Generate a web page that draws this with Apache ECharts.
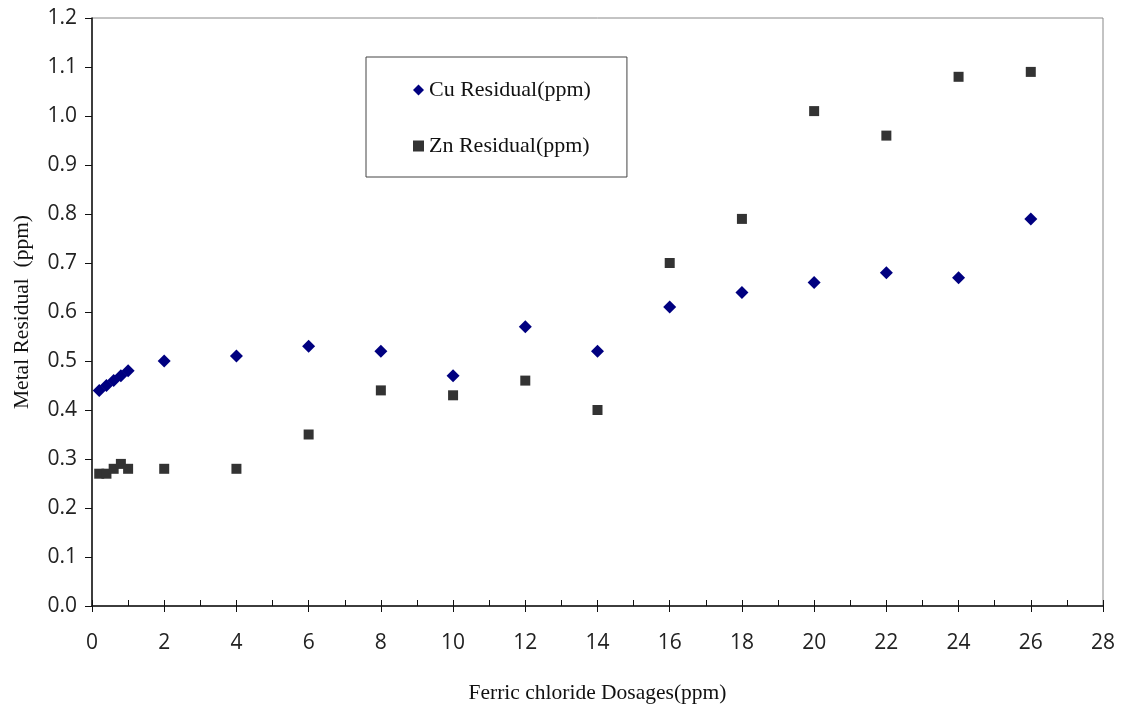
<!DOCTYPE html>
<html>
<head>
<meta charset="utf-8">
<script src="https://cdn.jsdelivr.net/npm/echarts@6/dist/echarts.min.js"></script>
<style>
  html, body { margin: 0; padding: 0; background: #fff; }
  #chart { width: 1126px; height: 708px; }
</style>
</head>
<body>
<div id="chart"></div>
<script>
// ferric chloride dosage (ppm) on x
var doses = [0.2, 0.4, 0.6, 0.8, 1, 2, 4, 6, 8, 10, 12, 14, 16, 18, 20, 22, 24, 26];
// residuals
var cuValues = [0.44, 0.45, 0.46, 0.47, 0.48, 0.50, 0.51, 0.53, 0.52, 0.47, 0.57, 0.52, 0.61, 0.64, 0.66, 0.68, 0.67, 0.79];
var znValues = [0.27, 0.27, 0.28, 0.29, 0.28, 0.28, 0.28, 0.35, 0.44, 0.43, 0.46, 0.40, 0.70, 0.79, 1.01, 0.96, 1.08, 1.09];
var seriesNames = ['Cu Residual(ppm)', 'Zn Residual(ppm)'];

function pairUp(xs, ys) {
  return xs.map(function (x, i) { return [x, ys[i]]; });
}

var tickFont = { color: '#222', fontFamily: 'Open Sans', fontSize: 21 };

window.onload = function () {
  var myChart = echarts.init(document.getElementById('chart'));

  var option = {
    animation: false,
    grid: {
      left: 92, right: 23, top: 18, bottom: 102,
      outerBoundsMode: 'none',
      containLabel: false,
      show: true, borderColor: '#888', borderWidth: 1
    },
    legend: {
      orient: 'vertical',
      left: 366, top: 57,
      padding: [22, 36, 20, 47],
      itemGap: 34,
      itemWidth: 11, itemHeight: 11,
      borderColor: '#444', borderWidth: 1,
      backgroundColor: '#fff',
      textStyle: { fontFamily: 'Liberation Serif', fontSize: 22, color: '#111' },
      data: [
        { name: seriesNames[0], icon: 'diamond' },
        { name: seriesNames[1], icon: 'rect' }
      ]
    },
    xAxis: [{
      type: 'value',
      min: 0, max: 28, interval: 2,
      name: 'Ferric chloride Dosages(ppm)',
      nameLocation: 'middle', nameGap: 76,
      nameTextStyle: { fontFamily: 'Liberation Serif', fontSize: 21.5, color: '#111' },
      axisLine: { lineStyle: { color: '#111', width: 1.5 } },
      axisTick: { show: true, length: 6, lineStyle: { color: '#111' } },
      axisLabel: Object.assign({ margin: 27 }, tickFont),
      splitLine: { show: false }
    }, {
      // inside ticks + minor ticks, overlaid on the bottom axis
      type: 'value',
      position: 'bottom',
      min: 0, max: 28, interval: 2,
      axisLine: { show: false },
      axisTick: { show: true, inside: true, length: 6, lineStyle: { color: '#111' } },
      minorTick: { show: true, splitNumber: 2, length: 6, lineStyle: { color: '#111' } },
      axisLabel: { show: false },
      splitLine: { show: false }
    }],
    yAxis: {
      type: 'value',
      min: 0, max: 1.2, interval: 0.1,
      name: 'Metal Residual  (ppm)',
      nameLocation: 'middle', nameGap: 59,
      nameTextStyle: { fontFamily: 'Liberation Serif', fontSize: 21.5, color: '#111' },
      axisLine: { show: true, lineStyle: { color: '#111', width: 1.5 } },
      axisTick: { show: true, length: 7, lineStyle: { color: '#111' } },
      axisLabel: Object.assign({
        margin: 15,
        formatter: function (v) { return v.toFixed(1); }
      }, tickFont),
      splitLine: { show: false }
    },
    series: [{
      name: seriesNames[0],
      type: 'scatter',
      symbol: 'diamond',
      symbolSize: 13,
      itemStyle: { color: '#000080', opacity: 1 },
      data: pairUp(doses, cuValues)
    }, {
      name: seriesNames[1],
      type: 'scatter',
      symbol: 'rect',
      symbolSize: 10,
      itemStyle: { color: '#333333', opacity: 1 },
      data: pairUp(doses, znValues)
    }]
  };

  myChart.setOption(option);
};
</script>
</body>
</html>
